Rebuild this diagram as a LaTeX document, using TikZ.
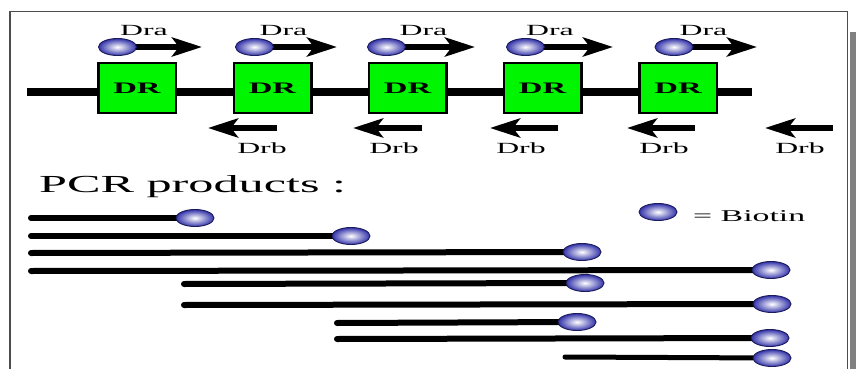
\documentclass[tikz,border=0pt]{standalone}
\usepackage{fontspec}
\setmainfont[FakeStretch=2.05]{Liberation Serif}
\usetikzlibrary{arrows.meta,shapes.geometric,backgrounds}
\definecolor{vertdr}{RGB}{0,245,0}
\definecolor{bleubio}{RGB}{60,60,200}

\begin{document}
\begin{tikzpicture}[
    x=1pt, y=-1pt,  % coordonnées en pixels
    boite/.style={draw=black, line width=2.5pt, fill=vertdr,
        minimum width=77.5pt, minimum height=49.5pt, inner sep=0pt,
        font=\fontsize{16}{18}\selectfont\bfseries},
    biotine/.style={ellipse, draw=bleubio!45!black, line width=0.9pt,
        shading=radial, inner color=white, outer color=bleubio!85!black,
        minimum width=38pt, minimum height=17pt, inner sep=0pt},
    amorce/.style={line width=5.5pt, -{Stealth[length=30pt, width=19pt, inset=7pt]}},
    brin/.style={line width=6pt, line cap=round},
    etiq/.style={font=\fontsize{15.5}{18}\selectfont, anchor=base, inner sep=0pt}
]
\useasboundingbox (0,0) rectangle (856,369);

% Cadre
\draw[gray!60!black, line width=1.5pt] (10,369) -- (10,11.7) -- (847.5,11.7) -- (847.5,369);
\fill[gray] (850,32) rectangle (856,369);

% Séquence avec les DR
\coordinate (L) at (27,92);
\coordinate (R) at (752,92);
\node[boite] (dr1) at (137,88) {DR};
\node[boite] (dr2) at (272.5,88) {DR};
\node[boite] (dr3) at (407.5,88) {DR};
\node[boite] (dr4) at (542.5,88) {DR};
\node[boite] (dr5) at (678,88) {DR};

% Amorces Dra
\node[biotine] (a1) at (117.5,47) {};
\node[biotine] (a2) at (254.5,47) {};
\node[biotine] (a3) at (386.5,47) {};
\node[biotine] (a4) at (525.5,47) {};
\node[biotine] (a5) at (674,47) {};
\coordinate (t1) at (202,47);
\coordinate (t2) at (337,47);
\coordinate (t3) at (475,47);
\coordinate (t4) at (613,47);
\coordinate (t5) at (757,47);
\node[etiq] (la1) at (144,36) {Dra};
\node[etiq] (la2) at (283.5,36) {Dra};
\node[etiq] (la3) at (423.5,36) {Dra};
\node[etiq] (la4) at (550,36) {Dra};
\node[etiq] (la5) at (703.5,36) {Dra};

% Amorces Drb
\coordinate (q1) at (277,128);  \coordinate (p1) at (208,128);
\coordinate (q2) at (422,128);  \coordinate (p2) at (353,128);
\coordinate (q3) at (558,128);  \coordinate (p3) at (490,128);
\coordinate (q4) at (695,128);  \coordinate (p4) at (627,128);
\coordinate (q5) at (833,128);  \coordinate (p5) at (765,128);
\node[etiq] (lb1) at (262,153) {Drb};
\node[etiq] (lb2) at (394,153) {Drb};
\node[etiq] (lb3) at (521,153) {Drb};
\node[etiq] (lb4) at (664,153) {Drb};
\node[etiq] (lb5) at (800,153) {Drb};

% Produits PCR
\node[font=\fontsize{24.5}{28}\selectfont, anchor=base west, inner sep=0pt] (titre) at (39,192) {PCR products :};
\node[biotine] (leg) at (658,212) {};
\node[font=\fontsize{16.5}{19}\selectfont, anchor=base west, inner sep=0pt] (legtxt) at (693,221) {= Biotin};

\coordinate (s1) at (31,218);   \node[biotine] (b1) at (195,218) {};
\coordinate (s2) at (31,236);   \node[biotine] (b2) at (351,236) {};
\coordinate (s3) at (31,253);   \node[biotine] (b3) at (582,252) {};
\coordinate (s4) at (31,271);   \node[biotine] (b4) at (771,270) {};
\coordinate (s5) at (184,284);  \node[biotine] (b5) at (585,283) {};
\coordinate (s6) at (184,305);  \node[biotine] (b6) at (772,304) {};
\coordinate (s7) at (337,323);  \node[biotine] (b7) at (577,322) {};
\coordinate (s8) at (337,339);  \node[biotine] (b8) at (770,338) {};
\coordinate (s9) at (565,357);  \node[biotine] (b9) at (772,358) {};

\begin{scope}[on background layer]
    \draw[line width=7.5pt] (L) -- (R);
    \draw[amorce] (a1.center) -- (t1);
    \draw[amorce] (a2.center) -- (t2);
    \draw[amorce] (a3.center) -- (t3);
    \draw[amorce] (a4.center) -- (t4);
    \draw[amorce] (a5.center) -- (t5);
    \draw[amorce] (q1) -- (p1);
    \draw[amorce] (q2) -- (p2);
    \draw[amorce] (q3) -- (p3);
    \draw[amorce] (q4) -- (p4);
    \draw[amorce] (q5) -- (p5);
    \draw[brin] (s1) -- (b1.center);
    \draw[brin] (s2) -- (b2.center);
    \draw[brin] (s3) -- (b3.center);
    \draw[brin] (s4) -- (b4.center);
    \draw[brin] (s5) -- (b5.center);
    \draw[brin] (s6) -- (b6.center);
    \draw[brin] (s7) -- (b7.center);
    \draw[brin] (s8) -- (b8.center);
    \draw[brin, line width=5pt] (s9) -- (b9.center);
\end{scope}
\end{tikzpicture}
\end{document}
